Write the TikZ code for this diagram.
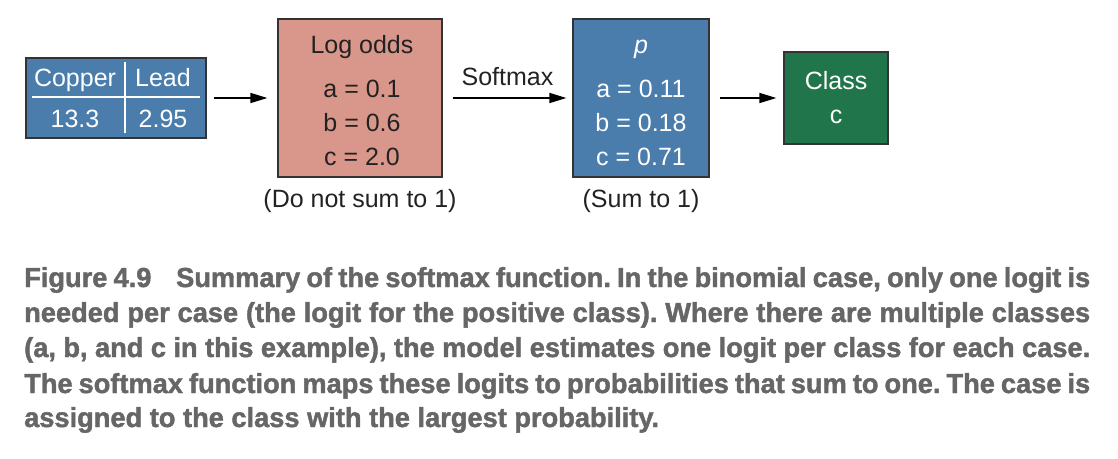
\documentclass[tikz,border=0pt]{standalone}
\usepackage{fontspec}
\setmainfont{Liberation Sans}
\newfontfamily\capfont[FakeStretch=0.99,FakeBold=1.6]{Liberation Sans}
\usetikzlibrary{arrows.meta}
\definecolor{boxblue}{HTML}{4A7DAB}
\definecolor{salmon}{HTML}{D9978B}
\definecolor{clsgreen}{HTML}{21754A}
\definecolor{edgegray}{HTML}{333333}
\definecolor{capgray}{HTML}{666666}
\definecolor{darktext}{HTML}{222222}
\tikzset{
  box/.style={draw=edgegray, line width=1.2pt, inner sep=0pt},
  txt/.style={font=\fontsize{25}{30}\selectfont, inner sep=0pt, anchor=base},
  wtxt/.style={txt, text=white},
  dtxt/.style={txt, text=darktext},
  arr/.style={-{Triangle[length=17pt,width=10pt]}, line width=1.5pt, black},
  captext/.style={font=\capfont\bfseries\fontsize{27.5}{30}\selectfont\frenchspacing, text=capgray, inner sep=0pt, anchor=base west}
}
\begin{document}
\begin{tikzpicture}[x=1pt,y=-1pt]
\useasboundingbox (0,0) rectangle (1118,458);
% table
\node[box, fill=boxblue, minimum width=180pt, minimum height=80pt] (tab) at (116,98) {};
\draw[white, line width=1.5pt] (32,97) -- (200,97);
\draw[white, line width=1.5pt] (125,62) -- (125,133);
\node[wtxt] (copper) at (75,86) {Copper};
\node[wtxt] (lead) at (163,86) {Lead};
\node[wtxt] (v1) at (75,127) {13.3};
\node[wtxt] (v2) at (163,127) {2.95};
% log odds
\node[box, fill=salmon, minimum width=164pt, minimum height=158pt] (lo) at (360,98) {};
\node[dtxt] (lot) at (362,53) {Log odds};
\node[dtxt] (loa) at (362,97) {a = 0.1};
\node[dtxt] (lob) at (362,131) {b = 0.6};
\node[dtxt] (loc) at (362,165) {c = 2.0};
\node[dtxt] (lon) at (360,207) {(Do not sum to 1)};
% p
\node[box, fill=boxblue, minimum width=136pt, minimum height=158pt] (pb) at (641,98) {};
\node[wtxt] (pt) at (641,53) {\itshape p};
\node[wtxt] (pa) at (641,97) {a = 0.11};
\node[wtxt] (pbb) at (641,131) {b = 0.18};
\node[wtxt] (pc) at (641,165) {c = 0.71};
\node[dtxt] (pn) at (641,207) {(Sum to 1)};
% class
\node[box, fill=clsgreen, minimum width=104pt, minimum height=92pt] (cl) at (836,98) {};
\node[wtxt] (clt) at (836,89) {Class};
\node[wtxt] (clc) at (836,123) {c};
% arrows
\draw[arr, shorten <=7pt, shorten >=10pt] (tab.east) -- (lo.west);
\draw[arr, shorten <=10pt, shorten >=6pt] (lo.east) -- node[dtxt, anchor=base, yshift=13pt] (sm) {Softmax} (pb.west);
\draw[arr, shorten <=10pt, shorten >=7pt] (pb.east) -- (cl.west);
% caption
\node[captext] (c1) at (24,287) {\makebox[1066pt][s]{Figure 4.9\hspace*{0.9em}Summary of the softmax function. In the binomial case, only one logit is}};
\node[captext] (c2) at (24,322) {\makebox[1066pt][s]{needed per case (the logit for the positive class). Where there are multiple classes}};
\node[captext] (c3) at (24,357) {\makebox[1066pt][s]{(a, b, and c in this example), the model estimates one logit per class for each case.}};
\node[captext] (c4) at (24,393) {\makebox[1066pt][s]{The softmax function maps these logits to probabilities that sum to one. The case is}};
\node[captext] (c5) at (24,427) {assigned to the class with the largest probability.};
\end{tikzpicture}
\end{document}
